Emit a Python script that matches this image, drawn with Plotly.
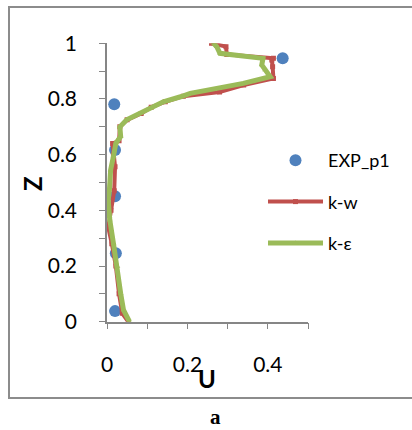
import plotly.graph_objects as go

# EXP_p1 points
exp_u = [0.437, 0.018, 0.020, 0.020, 0.022, 0.020]
exp_z = [0.946, 0.781, 0.617, 0.451, 0.246, 0.038]

# k-w profile
kw_u = [0.053, 0.038, 0.030, 0.022, 0.012, 0.003, 0.010, 0.018, 0.020, 0.016,
        0.014, 0.030, 0.032, 0.050, 0.085, 0.110, 0.145, 0.190, 0.280, 0.340,
        0.414, 0.412, 0.410, 0.414, 0.298, 0.296, 0.260]
kw_z = [0.000, 0.030, 0.100, 0.200, 0.280, 0.340, 0.400, 0.470, 0.557, 0.600,
        0.640, 0.650, 0.700, 0.725, 0.748, 0.770, 0.790, 0.810, 0.825, 0.850,
        0.874, 0.916, 0.940, 0.946, 0.960, 0.988, 1.000]

# k-eps profile
ke_u = [0.056, 0.041, 0.034, 0.026, 0.016, 0.007, 0.003, 0.006, 0.006, 0.009,
        0.016, 0.022, 0.034, 0.032, 0.049, 0.082, 0.107, 0.140, 0.183, 0.207,
        0.273, 0.339, 0.406, 0.393, 0.385, 0.388, 0.290, 0.281, 0.273, 0.265]
ke_z = [0.000, 0.042, 0.102, 0.198, 0.281, 0.365, 0.437, 0.473, 0.377, 0.545,
        0.593, 0.641, 0.665, 0.700, 0.725, 0.748, 0.766, 0.790, 0.808, 0.820,
        0.838, 0.856, 0.880, 0.904, 0.922, 0.946, 0.962, 0.964, 0.988, 1.000]

# order k-eps along the profile (by height)
pairs = sorted(zip(ke_z, ke_u))
ke_z = [p[0] for p in pairs]
ke_u = [p[1] for p in pairs]

x_ticks = [0, 0.2, 0.4]
y_ticks = [0, 0.2, 0.4, 0.6, 0.8, 1]

W, H = 412, 430
FONT = "Lato"

fig = go.Figure()
fig.add_trace(go.Scatter(x=exp_u, y=exp_z, mode="markers", name="EXP_p1",
                         marker=dict(color="#4f81bd", size=12),
                         legendgroup="a"))
fig.add_trace(go.Scatter(x=kw_u, y=kw_z, mode="lines+markers", name="k-w",
                         line=dict(color="#c0504d", width=4),
                         marker=dict(symbol="square", size=5, color="#c0504d"),
                         legendgroup="b"))
fig.add_trace(go.Scatter(x=ke_u, y=ke_z, mode="lines+markers", name="k-\u03b5",
                         line=dict(color="#9bbb59", width=5),
                         marker=dict(symbol="triangle-up", size=5, color="#9bbb59"),
                         legendgroup="c"))

axcol = "#868686"
fig.update_layout(
    width=W, height=H,
    margin=dict(l=0, r=0, t=0, b=0, autoexpand=False),
    paper_bgcolor="white", plot_bgcolor="white",
    font=dict(family=FONT, color="#000000"),
    xaxis=dict(domain=[107 / W, 308 / W], range=[0, 0.5], automargin=False,
               tickvals=x_ticks, ticktext=[str(v) for v in x_ticks],
               showgrid=False, zeroline=False, showline=True, linecolor=axcol,
               linewidth=1.5, ticks="outside", ticklen=6, tickcolor=axcol,
               minor=dict(dtick=0.1, tick0=0, ticks="outside", ticklen=6,
                          tickcolor=axcol, showgrid=False),
               tickfont=dict(size=21, family=FONT), ticklabelstandoff=17,
               fixedrange=True),
    yaxis=dict(domain=[1 - 321.7 / H, 1 - 43.3 / H], range=[0, 1], automargin=False,
               tickvals=y_ticks, ticktext=["0", "0.2", "0.4", "0.6", "0.8", "1"],
               showgrid=False, zeroline=False, showline=True, linecolor=axcol,
               linewidth=1.5, ticks="outside", ticklen=6, tickcolor=axcol,
               minor=dict(dtick=0.1, tick0=0, ticks="outside", ticklen=6,
                          tickcolor=axcol, showgrid=False),
               tickfont=dict(size=21, family=FONT), ticklabelstandoff=18,
               fixedrange=True),
    legend=dict(x=263 / W, y=1 - 142 / H, xanchor="left", yanchor="top",
                font=dict(size=18, family=FONT), bgcolor="rgba(0,0,0,0)",
                tracegroupgap=15, itemwidth=55),
    showlegend=True,
)

fig.add_shape(type="rect", xref="paper", yref="paper",
              x0=9 / W, x1=1.02, y0=1 - 398 / H, y1=1 - 7 / H,
              line=dict(color="#8c8c8c", width=2), fillcolor="rgba(0,0,0,0)",
              layer="below")

fig.add_annotation(text="<b>U</b>", xref="paper", yref="paper",
                   x=207 / W, y=1 - 378 / H, showarrow=False,
                   font=dict(size=24, family=FONT), xanchor="center", yanchor="middle")
fig.add_annotation(text="<b>Z</b>", xref="paper", yref="paper",
                   x=32 / W, y=1 - 183 / H, showarrow=False, textangle=-90,
                   font=dict(size=24, family=FONT), xanchor="center", yanchor="middle")
fig.add_annotation(text="<b>a</b>", xref="paper", yref="paper",
                   x=215 / W, y=1 - 417 / H, showarrow=False,
                   font=dict(size=21, family="Liberation Serif"),
                   xanchor="center", yanchor="middle")

fig.write_html("out.html")
